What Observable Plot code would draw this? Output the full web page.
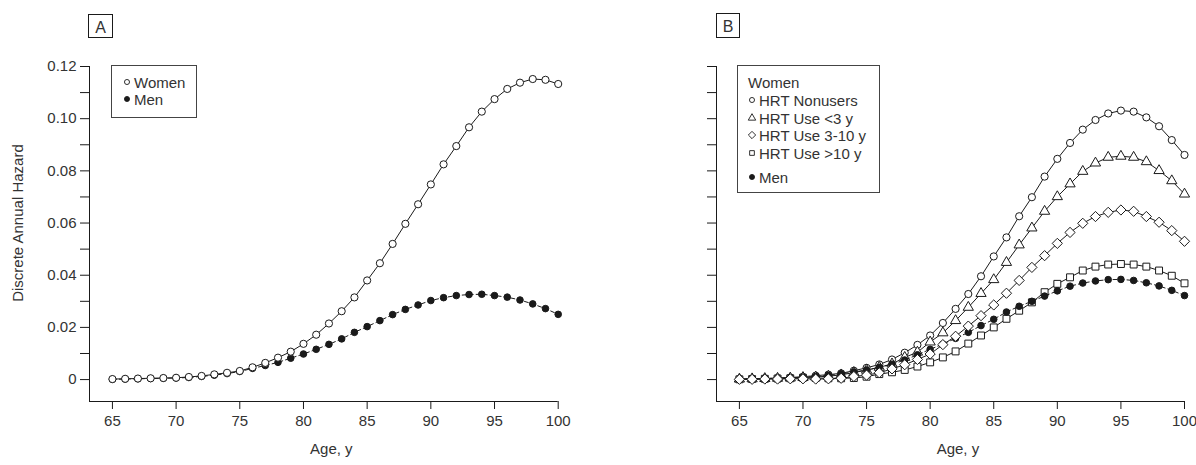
<!DOCTYPE html>
<html><head><meta charset="utf-8">
<script src="https://cdn.jsdelivr.net/npm/d3@7"></script>
<script src="https://cdn.jsdelivr.net/npm/@observablehq/plot@0.6"></script>
<style>
body{margin:0;background:#fff;font-family:"Liberation Sans",Arial,Helvetica,sans-serif;}
#wrap{position:relative;width:1196px;height:465px;overflow:hidden;}
.panel{position:absolute;top:0;width:598px;height:465px;}
#overlay{position:absolute;left:0;top:0;}
</style></head>
<body>
<div id="wrap">
  <div class="panel" id="pa" style="left:0"></div>
  <div class="panel" id="pb" style="left:598px"></div>
</div>
<script>
// ---- data ----
const ages = [65,66,67,68,69,70,71,72,73,74,75,76,77,78,79,80,81,82,83,84,85,86,87,88,89,90,91,92,93,94,95,96,97,98,99,100];
const xTicks = [65,70,75,80,85,90,95,100];
const yTicks = [0,0.01,0.02,0.03,0.04,0.05,0.06,0.07,0.08,0.09,0.10,0.11,0.12];
const yTickLabels = ["0","","0.02","","0.04","","0.06","","0.08","","0.10","","0.12"];
const yLabel = "Discrete Annual Hazard";
const xLabel = "Age, y";

// Panel A
const womenA = [0.0002,0.0003,0.0004,0.0005,0.0006,0.0007,0.0010,0.0014,0.0020,0.0026,0.0033,0.0047,0.0064,0.0084,0.0107,0.0137,0.0172,0.0215,0.0262,0.0315,0.0380,0.0446,0.0520,0.0597,0.0672,0.0748,0.0825,0.0895,0.0967,0.1027,0.1075,0.1114,0.1138,0.1152,0.1149,0.1133];
const menA = [0.0001,0.0002,0.0003,0.0004,0.0005,0.0006,0.0008,0.0012,0.0017,0.0023,0.0031,0.0043,0.0054,0.0066,0.0082,0.0098,0.0116,0.0135,0.0156,0.0181,0.0203,0.0226,0.0249,0.0269,0.0286,0.0303,0.0314,0.0322,0.0326,0.0327,0.0322,0.0316,0.0305,0.0290,0.0272,0.0250];

// Panel B
const nonusersB = [0.0002,0.0003,0.0004,0.0006,0.0008,0.0011,0.0015,0.0019,0.0024,0.0034,0.0045,0.0058,0.0077,0.0103,0.0133,0.0169,0.0217,0.0271,0.0328,0.0396,0.0472,0.0545,0.0626,0.0699,0.0778,0.0846,0.0907,0.0958,0.0995,0.1020,0.1031,0.1027,0.1005,0.0971,0.0918,0.0861];
const use3B = [0.0002,0.0003,0.0004,0.0005,0.0006,0.0008,0.0010,0.0013,0.0018,0.0027,0.0036,0.0047,0.0060,0.0085,0.0105,0.0144,0.0179,0.0226,0.0277,0.0330,0.0383,0.0449,0.0516,0.0581,0.0645,0.0701,0.0750,0.0798,0.0830,0.0852,0.0856,0.0852,0.0835,0.0801,0.0762,0.0711];
const use3to10B = [0.0001,0.0001,0.0002,0.0002,0.0003,0.0003,0.0002,0.0003,0.0005,0.0012,0.0017,0.0026,0.0041,0.0057,0.0077,0.0098,0.0134,0.0166,0.0205,0.0245,0.0286,0.0331,0.0380,0.0430,0.0475,0.0522,0.0564,0.0599,0.0625,0.0641,0.0650,0.0645,0.0625,0.0603,0.0571,0.0530];
const use10B = [0.0001,0.0002,0.0003,0.0004,0.0005,0.0007,0.0006,0.0005,0.0005,0.0006,0.0011,0.0021,0.0028,0.0037,0.0050,0.0066,0.0085,0.0108,0.0138,0.0169,0.0200,0.0233,0.0264,0.0296,0.0335,0.0367,0.0392,0.0418,0.0433,0.0441,0.0443,0.0441,0.0433,0.0418,0.0398,0.0369];
const menB = [0.0002,0.0003,0.0004,0.0005,0.0007,0.0009,0.0012,0.0016,0.0022,0.0029,0.0037,0.0047,0.0059,0.0075,0.0095,0.0116,0.0136,0.0158,0.0181,0.0207,0.0231,0.0259,0.0281,0.0300,0.0320,0.0340,0.0358,0.0370,0.0378,0.0383,0.0384,0.0380,0.0371,0.0359,0.0342,0.0322];

const legendA = ["Women","Men"];
const legendBTitle = "Women";
const legendB = ["HRT Nonusers","HRT Use <3 y","HRT Use 3-10 y","HRT Use >10 y","Men"];
const panelTags = ["A","B"];

// ---- drawing ----
const INK = "#1a1a1a";
const TXT = "#333333";
const xMin = 63.2, yMin = -0.0084;
const rows = (vals) => ages.map((a, i) => ({age: a, v: vals[i]}));

function seriesMarks(vals, symbol, filled, dashed, r) {
  const d = rows(vals);
  return [
    Plot.line(d, {x: "age", y: "v", stroke: INK, strokeWidth: 1, strokeDasharray: dashed ? "4,3" : null}),
    Plot.dot(d, {x: "age", y: "v", symbol, r, fill: filled ? INK : "white", stroke: INK, strokeWidth: 1})
  ];
}

function panel(opts) {
  return Plot.plot({
    width: 598, height: 465,
    marginLeft: opts.marginLeft, marginRight: opts.marginRight, marginTop: 66, marginBottom: 64,
    x: {domain: [xMin, 100]},
    y: {domain: [yMin, 0.12]},
    style: {fontFamily: '"Liberation Sans", Arial, Helvetica, sans-serif', fontSize: "15px", color: TXT, background: "white", overflow: "visible"},
    marks: [
      Plot.ruleX([xMin], {y1: yMin, y2: 0.12, stroke: INK, strokeWidth: 1}),
      Plot.ruleY([yMin], {x1: xMin, x2: 100, stroke: INK, strokeWidth: 1}),
      Plot.axisX({ticks: xTicks, tickSize: 8, tickPadding: 6, label: null, stroke: INK}),
      Plot.axisY({ticks: yTicks, tickSize: 9, tickPadding: 4, label: null, stroke: INK,
        tickFormat: opts.yLabels ? (d) => yTickLabels[Math.round(d * 100)] : () => ""}),
      Plot.text([xLabel], {x: 82.5, frameAnchor: "bottom", dy: 52, dx: -4, fill: TXT, textAnchor: "middle"}),
      ...(opts.yLabels ? [Plot.text([yLabel], {y: 0.06, frameAnchor: "left", rotate: -90, dx: -71, textAnchor: "middle", fill: TXT})] : []),
      ...opts.marks
    ]
  });
}

const A = panel({marginLeft: 89, marginRight: 40.3, yLabels: true, marks: [
  ...seriesMarks(menA, "circle", true, true, 3.3),
  ...seriesMarks(womenA, "circle", false, false, 3.6)
]});
document.getElementById("pa").appendChild(A);

const B = panel({marginLeft: 118, marginRight: 12, yLabels: false, marks: [
  ...seriesMarks(nonusersB, "circle", false, false, 3.6),
  ...seriesMarks(use3B, "triangle", false, false, 3.8),
  ...seriesMarks(use10B, "square", false, false, 3.9),
  ...seriesMarks(menB, "circle", true, true, 3.3),
  ...seriesMarks(use3to10B, "diamond2", false, false, 4.6)
]});
document.getElementById("pb").appendChild(B);

// overlay: panel tags and legends
const svg = d3.select("#wrap").append("svg").attr("id", "overlay")
  .attr("width", 1196).attr("height", 465)
  .style("font-family", '"Liberation Sans", Arial, Helvetica, sans-serif');

const tagPos = [{x: 88.5, y: 14.5, w: 24, h: 23}, {x: 716.5, y: 13.5, w: 23, h: 24}];
panelTags.forEach((t, i) => {
  const p = tagPos[i];
  svg.append("rect").attr("x", p.x).attr("y", p.y).attr("width", p.w).attr("height", p.h)
    .attr("fill", "white").attr("stroke", INK);
  svg.append("text").attr("x", p.x + p.w / 2).attr("y", p.y + p.h / 2 + 1)
    .attr("text-anchor", "middle").attr("dominant-baseline", "central")
    .attr("font-size", 16).attr("fill", TXT).text(t);
});

function sym(type, x, y, size, filled) {
  svg.append("path").attr("d", d3.symbol(type, size)())
    .attr("transform", `translate(${x},${y})`)
    .attr("fill", filled ? INK : "white").attr("stroke", INK).attr("stroke-width", 0.9);
}
function ltext(x, y, t) {
  svg.append("text").attr("x", x).attr("y", y).attr("dominant-baseline", "central")
    .attr("font-size", 15).attr("fill", TXT).text(t);
}

// legend A
svg.append("rect").attr("x", 111.5).attr("y", 65.5).attr("width", 85).attr("height", 52)
  .attr("fill", "white").attr("stroke", "#444");
sym(d3.symbolCircle, 127, 82, 20, false); ltext(134, 82, legendA[0]);
sym(d3.symbolCircle, 127, 99, 20, true); ltext(134, 99, legendA[1]);

// legend B
svg.append("rect").attr("x", 737.5).attr("y", 65.5).attr("width", 142).attr("height", 127)
  .attr("fill", "white").attr("stroke", "#444");
ltext(748, 82, legendBTitle);
const lbTypes = [d3.symbolCircle, d3.symbolTriangle, d3.symbolDiamond2, d3.symbolSquare, d3.symbolCircle];
const lbY = [100, 118, 135, 153, 177];
const lbSize = [20, 24, 34, 22, 20];
legendB.forEach((t, i) => {
  sym(lbTypes[i], 752, lbY[i], lbSize[i], i === 4);
  ltext(759, lbY[i], t);
});
</script>
</body></html>
